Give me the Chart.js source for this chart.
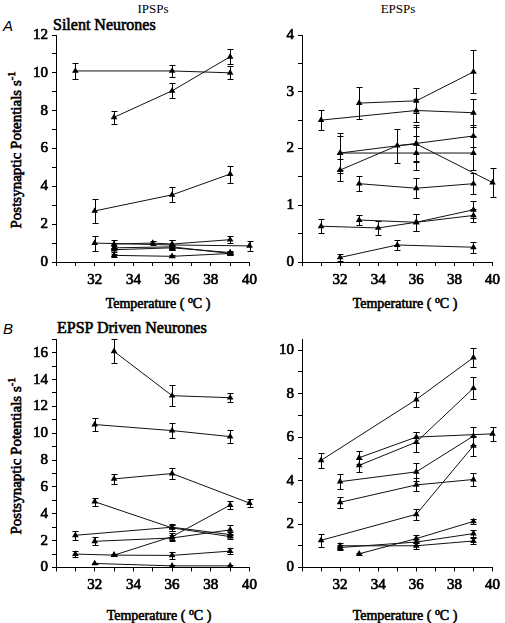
<!DOCTYPE html>
<html>
<head>
<meta charset="utf-8">
<script src="https://cdn.jsdelivr.net/npm/chart.js@4.4.1/dist/chart.umd.min.js"></script>
<style>
  body { margin: 0; background: #fff; width: 505px; height: 623px; position: relative; overflow: hidden;
         font-family: "Liberation Serif", serif; color: #000; }
  .t { position: absolute; white-space: nowrap; transform: translate(-50%, -50%); }
  .l { position: absolute; white-space: nowrap; transform: translateY(-50%); }
  .b { -webkit-text-stroke: 0.6px #000; }
  .panel { position: absolute; }
  sup { font-size: 0.7em; }
</style>
</head>
<body>
<div class="t" style="left:153px;top:9px;font-size:13px">IPSPs</div>
<div class="t" style="left:398px;top:9px;font-size:13px">EPSPs</div>
<div class="l" style="left:3px;top:25px;font:italic 15px 'Liberation Sans',sans-serif">A</div>
<div class="l b" style="left:53px;top:25px;font-size:16px">Silent Neurones</div>
<div class="l" style="left:3px;top:328px;font:italic 15px 'Liberation Sans',sans-serif">B</div>
<div class="l b" style="left:57px;top:328px;font-size:16px">EPSP Driven Neurones</div>
<div class="t b" style="left:15px;top:150px;font-size:15px;transform:translate(-50%,-50%) rotate(-90deg)">Postsynaptic Potentials s<sup>-1</sup></div>
<div class="t b" style="left:15px;top:456px;font-size:15px;transform:translate(-50%,-50%) rotate(-90deg)">Postsynaptic Potentials s<sup>-1</sup></div>
<div class="t b" style="left:158px;top:303px;font-size:14px">Temperature ( <sup>o</sup>C )</div>
<div class="t b" style="left:405px;top:303px;font-size:14px">Temperature ( <sup>o</sup>C )</div>
<div class="t b" style="left:159px;top:615px;font-size:14px">Temperature ( <sup>o</sup>C )</div>
<div class="t b" style="left:405px;top:615px;font-size:14px">Temperature ( <sup>o</sup>C )</div>

<canvas id="aIpsp" class="panel" width="262" height="280" style="left:0;top:20px"></canvas>
<canvas id="aEpsp" class="panel" width="250" height="280" style="left:255px;top:20px"></canvas>
<canvas id="bIpsp" class="panel" width="262" height="285" style="left:0;top:325px"></canvas>
<canvas id="bEpsp" class="panel" width="250" height="285" style="left:255px;top:325px"></canvas>

<script>
// each series: [temperature, rate, error]
const silentIpsps = [
  [[31, 10.1, 0.4], [36, 10.1, 0.3], [39, 10.0, 0.35]],
  [[33, 7.65, 0.35], [36, 9.05, 0.4], [39, 10.85, 0.4]],
  [[32, 2.7, 0.65], [36, 3.55, 0.4], [39, 4.65, 0.45]],
  [[32, 1.0, 0.4], [36, 0.9, 0.25], [40, 0.85, 0.25]],
  [[33, 0.95, 0.2], [35, 1.0, 0.12], [36, 0.95, 0.2], [39, 1.18, 0.2]],
  [[33, 0.75, 0.1], [36, 0.8, 0.1], [39, 0.45, 0.08]],
  [[33, 0.65, 0.1], [36, 0.75, 0.1], [39, 0.5, 0.08]],
  [[33, 0.35, 0.08], [36, 0.3, 0.05], [39, 0.45, 0.05]]
];
const silentEpsps = [
  [[31, 2.5, 0.17], [36, 2.67, 0.2], [39, 2.63, 0.25]],
  [[33, 2.8, 0.28], [36, 2.84, 0.22], [39, 3.35, 0.38]],
  [[32, 1.92, 0.35], [36, 1.92, 0.3], [39, 1.92, 0.3]],
  [[32, 1.92, 0.3], [36, 2.09, 0.33], [39, 2.22, 0.2]],
  [[32, 1.62, 0.2], [35, 2.05, 0.3], [36, 2.08, 0.3], [40, 1.4, 0.25]],
  [[33, 1.38, 0.13], [36, 1.3, 0.18], [39, 1.38, 0.18]],
  [[31, 0.63, 0.12], [34, 0.6, 0.12], [36, 0.7, 0.15], [39, 0.82, 0.12]],
  [[33, 0.74, 0.08], [36, 0.7, 0.15], [39, 0.92, 0.15]],
  [[32, 0.08, 0.06], [35, 0.3, 0.09], [39, 0.26, 0.1]]
];
const drivenIpsps = [
  [[33, 16.1, 0.9], [36, 12.8, 0.8], [39, 12.65, 0.35]],
  [[32, 10.65, 0.5], [36, 10.2, 0.55], [39, 9.75, 0.5]],
  [[33, 6.6, 0.4], [36, 7.0, 0.4], [40, 4.8, 0.3]],
  [[32, 4.9, 0.3], [36, 2.95, 0.25], [39, 2.3, 0.2]],
  [[31, 2.4, 0.35], [36, 3.0, 0.25], [39, 2.45, 0.2]],
  [[32, 1.95, 0.3], [36, 2.2, 0.25], [39, 2.8, 0.35]],
  [[33, 0.92, 0.1], [36, 2.3, 0.25], [39, 4.65, 0.3]],
  [[31, 1.0, 0.2], [33, 0.92, 0.1], [36, 0.9, 0.25], [39, 1.22, 0.25]],
  [[32, 0.3, 0.05], [36, 0.12, 0.1], [39, 0.12, 0.1]]
];
const drivenEpsps = [
  [[31, 4.93, 0.35], [36, 7.73, 0.35], [39, 9.66, 0.42]],
  [[33, 5.05, 0.3], [36, 6.0, 0.25], [40, 6.15, 0.32]],
  [[33, 4.7, 0.3], [36, 5.77, 0.45], [39, 8.25, 0.5]],
  [[32, 3.95, 0.35], [36, 4.4, 0.4], [39, 6.05, 0.4]],
  [[32, 3.0, 0.25], [36, 3.8, 0.3], [39, 4.05, 0.3]],
  [[31, 1.25, 0.3], [36, 2.45, 0.25], [39, 5.6, 0.45]],
  [[32, 1.0, 0.15], [36, 1.0, 0.15], [39, 1.22, 0.15]],
  [[32, 0.92, 0.1], [36, 1.17, 0.15], [39, 1.56, 0.15]],
  [[33, 0.63, 0.05], [36, 1.33, 0.15], [39, 2.12, 0.12]]
];

const tempMin = 30, tempMax = 40;
const tempLabels = [32, 34, 36, 38, 40];

const errorBars = {
  id: 'errorBars',
  afterDatasetsDraw(chart) {
    const { ctx, scales: { x, y } } = chart;
    ctx.save();
    ctx.strokeStyle = '#000';
    ctx.lineWidth = 1;
    chart.data.datasets.forEach(ds => {
      ds.data.forEach(p => {
        const px = Math.round(x.getPixelForValue(p.x)) + 0.5;
        const top = Math.round(y.getPixelForValue(p.y + p.err)) + 0.5;
        const bot = Math.round(y.getPixelForValue(Math.max(0, p.y - p.err))) + 0.5;
        ctx.beginPath();
        ctx.moveTo(px, top); ctx.lineTo(px, bot);
        ctx.moveTo(px - 3, top); ctx.lineTo(px + 3, top);
        ctx.moveTo(px - 3, bot); ctx.lineTo(px + 3, bot);
        ctx.stroke();
      });
    });
    ctx.restore();
  }
};

const tickFont = { family: '"Liberation Serif", serif', size: 15 };

function panel(id, series, yMax, yStep, yLabelStep, yWidth, xHeight, pad) {
  new Chart(document.getElementById(id), {
    type: 'scatter',
    data: {
      datasets: series.map(s => ({
        data: s.map(([x, y, err]) => ({ x, y, err })),
        showLine: true,
        borderColor: '#111',
        borderWidth: 1,
        backgroundColor: '#000',
        pointStyle: 'triangle',
        pointRadius: 3.8,
        pointBorderWidth: 0,
        clip: false
      }))
    },
    options: {
      responsive: false,
      animation: false,
      layout: { padding: pad },
      plugins: { legend: { display: false }, tooltip: { enabled: false } },
      scales: {
        x: {
          type: 'linear', min: tempMin, max: tempMax,
          afterFit: s => { s.height = xHeight; },
          ticks: { stepSize: 1, autoSkip: false, maxRotation: 0, padding: 5, color: '#000', font: tickFont,
                   textStrokeColor: '#000', textStrokeWidth: 0.7,
                   callback: v => tempLabels.includes(v) ? String(v) : '' },
          grid: { drawOnChartArea: false, tickLength: 4, color: '#000' },
          border: { color: '#000', width: 1 }
        },
        y: {
          type: 'linear', min: 0, max: yMax,
          afterFit: s => { s.width = yWidth; },
          ticks: { stepSize: yStep, includeBounds: false, autoSkip: false, padding: 4, color: '#000', font: tickFont,
                   textStrokeColor: '#000', textStrokeWidth: 0.7,
                   callback: v => Math.abs(v / yLabelStep - Math.round(v / yLabelStep)) < 1e-6 ? String(v) : '' },
          grid: { drawOnChartArea: false, tickLength: 4, color: '#000' },
          border: { color: '#000', width: 1 }
        }
      }
    },
    plugins: [errorBars]
  });
}

panel('aIpsp', silentIpsps, 12, 1, 2, 56, 38, { top: 15, right: 12, left: 0, bottom: 0 });
panel('aEpsp', silentEpsps, 4, 0.5, 1, 47, 38, { top: 15, right: 9, left: 0, bottom: 0 });
panel('bIpsp', drivenIpsps, 17, 1, 2, 56, 42.5, { top: 14.3, right: 12, left: 0, bottom: 0 });
panel('bEpsp', drivenEpsps, 10.5, 1, 2, 47, 42.5, { top: 14.3, right: 9, left: 0, bottom: 0 });
</script>
</body>
</html>
